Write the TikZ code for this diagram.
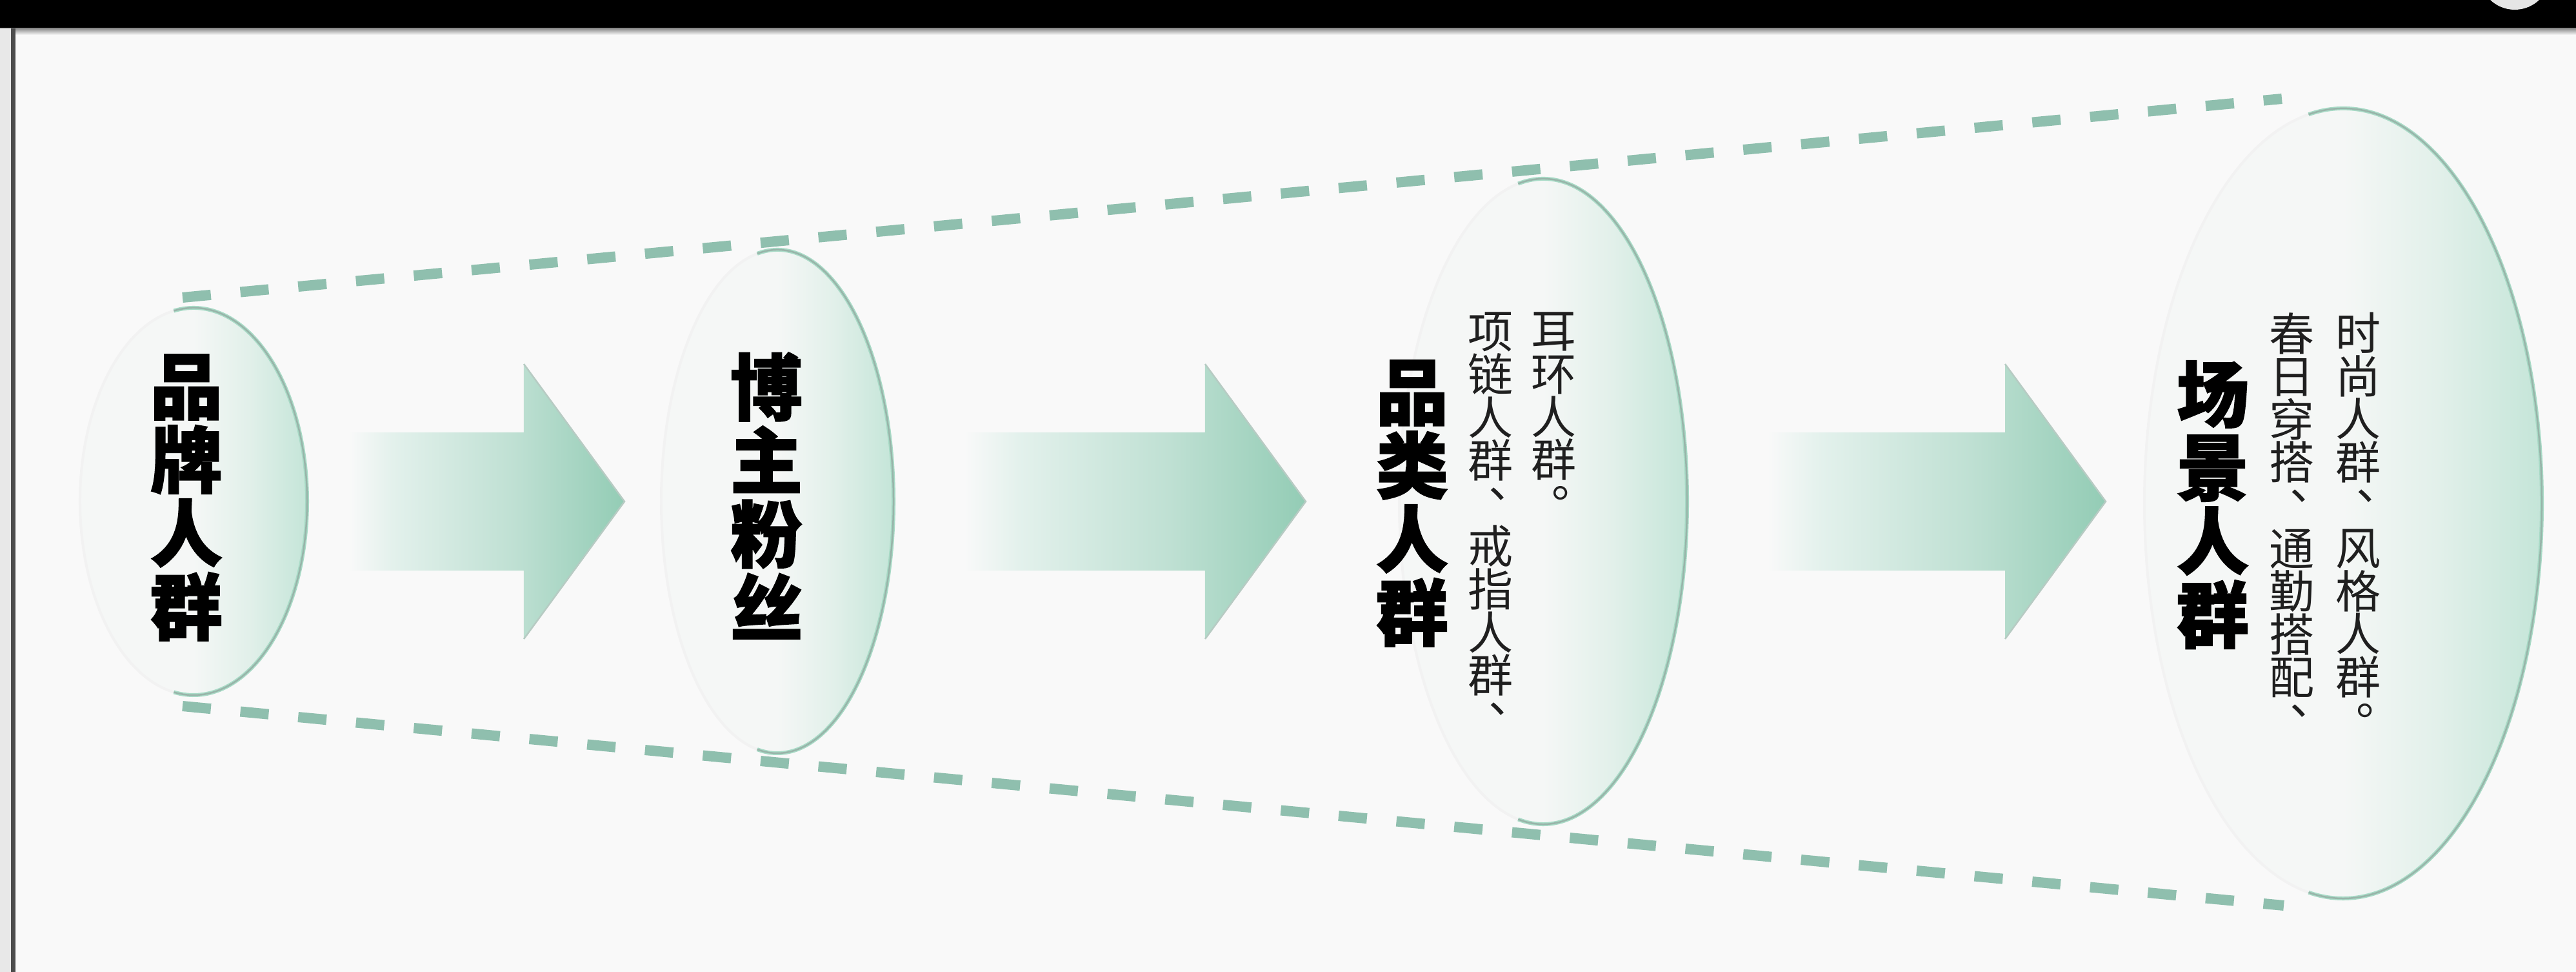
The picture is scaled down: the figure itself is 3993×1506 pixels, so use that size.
\documentclass[tikz,border=0pt]{standalone}
\usepackage{fontspec}
\newfontfamily\cjk[BoldFeatures={FakeBold=1.6}]{Noto Sans CJK SC}
\usetikzlibrary{shapes.geometric,shapes.arrows,calc}

\definecolor{bgc}{HTML}{F9F9F9}
\definecolor{dashc}{HTML}{8FBFAE}
\definecolor{rimc}{HTML}{A8DAC6}
\definecolor{rimd}{HTML}{98B4A9}
\definecolor{discw}{HTML}{F5F7F6}
\definecolor{discm}{HTML}{E2F0EA}
\definecolor{discg}{HTML}{C4E5D8}
\definecolor{arA}{HTML}{E3F1EC}
\definecolor{arB}{HTML}{BFE0D3}
\definecolor{arC}{HTML}{93CCB5}

\pgfdeclarehorizontalshading{discshade}{100bp}{color(0bp)=(discw); color(25bp)=(discw); color(50bp)=(discw); color(62bp)=(discm); color(75bp)=(discg); color(100bp)=(discg)}
\pgfdeclarehorizontalshading{arrowshade}{100bp}{color(0bp)=(bgc); color(25bp)=(bgc); color(33bp)=(arA); color(55bp)=(arB); color(75bp)=(arC); color(100bp)=(arC)}

% vertical-text punctuation: moved to the upper right of its cell
\newcommand\vpunct[1]{\makebox[1em][l]{\hspace{0.46em}\raisebox{0.5em}[0pt][0pt]{#1}}}

\tikzset{
  disc/.style={ellipse, inner sep=0pt, outer sep=0pt, shade, shading=discshade},
  rimlight/.style={draw=rimc, line width=6pt},
  rimdark/.style={draw=rimd, line width=2.5pt},
  faintedge/.style={draw=black!5, line width=4pt},
  flow/.style={single arrow, shade, shading=arrowshade, inner xsep=0pt, inner ysep=107pt, outer sep=0pt,
    single arrow head extend=106pt, single arrow tip angle=107.6, anchor=tip},
  headedge/.style={draw=rimd!70, line width=2.5pt, line join=miter},
  title/.style={font=\cjk\bfseries\fontsize{112}{114}\selectfont, align=center, inner sep=0pt, text=black},
  note/.style={font=\cjk\fontsize{70}{66.6}\selectfont, align=center, inner sep=0pt, anchor=north, text=black!88},
  dashln/.style={draw=dashc, line width=16pt, dash pattern=on 44pt off 46pt},
}

\begin{document}
\begin{tikzpicture}[x=1pt, y=-1pt]
\useasboundingbox (0,0) rectangle (3993,1506);
% background and frame
\fill[bgc] (0,0) rectangle (3993,1506);
\fill[black] (0,0) rectangle (3993,44);
\shade[top color=black!45, bottom color=bgc] (0,44) rectangle (3993,54);
\fill[black!9] (0,44) rectangle (17,1506);
\fill[black!70] (17,44) rectangle (24,1506);
\fill[black!10] (3898,-40) circle[radius=55pt];

% dashed funnel lines
\coordinate (tl) at (283,461);
\coordinate (tr) at (3537,153);
\coordinate (bl) at (283,1094);
\coordinate (br) at (3540,1403);
\draw[dashln] (tl) -- (tr);
\draw[dashln] (bl) -- (br);

% discs
\node[disc, minimum width=352pt, minimum height=600pt] (d1) at (300,777) {};
\node[disc, minimum width=360pt, minimum height=780pt] (d2) at (1205,777) {};
\node[disc, minimum width=446pt, minimum height=1000pt] (d3) at (2392,777) {};
\node[disc, minimum width=616pt, minimum height=1224pt] (d4) at (3632,780) {};

\foreach \d/\rx/\ry in {d1/176/300, d2/180/390, d3/223/500, d4/308/612}{
  \draw[faintedge] ([shift={(100:\rx pt and \ry pt)}]\d.center) arc[start angle=100, end angle=260, x radius=\rx pt, y radius=\ry pt];
  \draw[rimlight] ([shift={(100:\rx pt and \ry pt)}]\d.center) arc[start angle=100, end angle=-100, x radius=\rx pt, y radius=\ry pt];
  \draw[rimdark] ([shift={(100:\rx pt and \ry pt)}]\d.center) arc[start angle=100, end angle=-100, x radius=\rx pt, y radius=\ry pt];
}

% arrows
\node[flow, minimum height=428pt] (a1) at (968,777) {};
\node[flow, minimum height=529pt] (a2) at (2024,777) {};
\node[flow, minimum height=524pt] (a3) at (3264,777) {};
\foreach \a in {a1,a2,a3}{
  \draw[headedge] ([shift={(-156pt,213pt)}]\a.tip) -- (\a.tip) -- ([shift={(-156pt,-213pt)}]\a.tip);
}

% texts
\node[title] (t1) at (289,771) {品\\牌\\人\\群};
\node[title] (t2) at (1188,768) {博\\主\\粉\\丝};
\node[title] (t3) at (2189,780) {品\\类\\人\\群};
\node[title] (t4) at (3430,782) {场\\景\\人\\群};
\node[note] (n3a) at (2408,484) {耳\\环\\人\\群\\\vpunct{。}};
\node[note] (n3b) at (2310,484) {项\\链\\人\\群\\\vpunct{、}\\戒\\指\\人\\群\\\vpunct{、}};
\node[note] (n4a) at (3655,484) {时\\尚\\人\\群\\\vpunct{、}\\风\\格\\人\\群\\\vpunct{。}};
\node[note] (n4b) at (3552,484) {春\\日\\穿\\搭\\\vpunct{、}\\通\\勤\\搭\\配\\\vpunct{、}};
\end{tikzpicture}
\end{document}
